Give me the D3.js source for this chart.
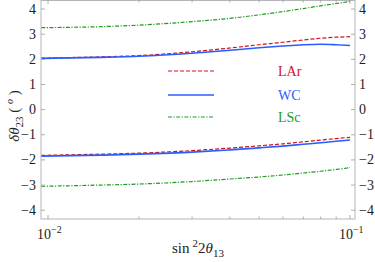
<!DOCTYPE html>
<html>
<head>
<meta charset="utf-8">
<script src="https://cdn.jsdelivr.net/npm/d3@7"></script>
<style>
  body { margin: 0; background: #fff; }
  svg { display: block; font-family: "Liberation Serif", "DejaVu Serif", serif; }
</style>
</head>
<body>
<svg id="chart" width="375" height="262"></svg>
<script>
// sin^2 2theta13 sample points
const sin2 = [0.0095, 0.015, 0.02, 0.03, 0.04, 0.05, 0.06, 0.07, 0.08, 0.09, 0.1]

// delta theta23 (degrees), upper and lower branches
const larUpper = [2.05, 2.1, 2.15, 2.3, 2.45, 2.58, 2.68, 2.77, 2.84, 2.88, 2.9]
const larLower = [-1.82, -1.77, -1.73, -1.63, -1.53, -1.44, -1.36, -1.28, -1.21, -1.15, -1.1]
const wcUpper = [2.04, 2.08, 2.12, 2.24, 2.36, 2.46, 2.53, 2.58, 2.6, 2.58, 2.55]
const wcLower = [-1.85, -1.81, -1.77, -1.69, -1.6, -1.52, -1.45, -1.38, -1.32, -1.26, -1.21]
const lscUpper = [3.26, 3.3, 3.36, 3.5, 3.63, 3.77, 3.9, 4.02, 4.13, 4.22, 4.3]
const lscLower = [-3.05, -3.0, -2.96, -2.86, -2.76, -2.68, -2.6, -2.52, -2.45, -2.38, -2.31]

const yTicks = [-4, -3, -2, -1, 0, 1, 2, 3, 4]
const xMajor = [0.01, 0.1]
const xMinor = [0.02, 0.03, 0.04, 0.05, 0.06, 0.07, 0.08, 0.09]

const series = [
  { name: "LAr", color: "#d0141c", dash: "4,2", width: 1.2, branches: [larUpper, larLower] },
  { name: "WC", color: "#2a5cff", dash: null, width: 1.6, branches: [wcUpper, wcLower] },
  { name: "LSc", color: "#1f9a1f", dash: "4,1.5,1.2,1.5", width: 1.2, branches: [lscUpper, lscLower] }
]

const svg = d3.select("#chart")
const pLeft = 41, pRight = 355, pTop = 0, pBottom = 219

const x = d3.scaleLog().domain([0.00948, 0.1039]).range([pLeft, pRight])
const y = d3.scaleLinear().domain([-4.35, 4.36]).range([pBottom, pTop])

const frame = "#b5b5b5"

// curves
const line = d3.line()
  .x((d, i) => x(sin2[i]))
  .y(d => y(d))
  .curve(d3.curveMonotoneX)

const plot = svg.append("g")
series.forEach(s => {
  s.branches.forEach(b => {
    plot.append("path")
      .datum(b)
      .attr("d", line)
      .attr("fill", "none")
      .attr("stroke", s.color)
      .attr("stroke-width", s.width)
      .attr("stroke-dasharray", s.dash)
  })
})

// frame
svg.append("rect")
  .attr("x", pLeft).attr("y", pTop + 0.5)
  .attr("width", pRight - pLeft).attr("height", pBottom - pTop - 0.5)
  .attr("fill", "none").attr("stroke", frame).attr("stroke-width", 1)

// ticks
const tickG = svg.append("g").attr("stroke", "#999").attr("stroke-width", 0.8)
yTicks.forEach(t => {
  tickG.append("line").attr("x1", pLeft).attr("x2", pLeft + 4).attr("y1", y(t)).attr("y2", y(t))
  tickG.append("line").attr("x1", pRight).attr("x2", pRight - 4).attr("y1", y(t)).attr("y2", y(t))
})
xMajor.forEach(t => {
  tickG.append("line").attr("x1", x(t)).attr("x2", x(t)).attr("y1", pBottom).attr("y2", pBottom - 4)
  tickG.append("line").attr("x1", x(t)).attr("x2", x(t)).attr("y1", pTop).attr("y2", pTop + 4)
})
xMinor.forEach(t => {
  tickG.append("line").attr("x1", x(t)).attr("x2", x(t)).attr("y1", pBottom).attr("y2", pBottom - 2.5)
  tickG.append("line").attr("x1", x(t)).attr("x2", x(t)).attr("y1", pTop).attr("y2", pTop + 2.5)
})

// tick labels
const fmt = t => (t < 0 ? "\u2212" + Math.abs(t) : String(t))
yTicks.forEach(t => {
  svg.append("text").attr("x", 36).attr("y", y(t) + 4.5)
    .attr("text-anchor", "end").attr("font-size", 14).attr("fill", "#222").text(fmt(t))
  svg.append("text").attr("x", 359).attr("y", y(t) + 4.5)
    .attr("text-anchor", "start").attr("font-size", 14).attr("fill", "#222").text(fmt(t))
})
xMajor.forEach((t, i) => {
  const lab = svg.append("text").attr("x", x(t) - 11).attr("y", 239)
    .attr("font-size", 14).attr("fill", "#222")
  lab.append("tspan").text("10")
  lab.append("tspan").attr("dy", -6).attr("font-size", 10).text(i === 0 ? "\u22122" : "\u22121")
})

// axis titles
const xt = svg.append("text").attr("x", 172).attr("y", 253).attr("font-size", 15).attr("fill", "#222")
xt.append("tspan").text("sin\u2009")
xt.append("tspan").attr("dy", -6).attr("font-size", 11).text("2")
xt.append("tspan").attr("dy", 6).text("2")
xt.append("tspan").attr("font-style", "italic").text("\u03b8")
xt.append("tspan").attr("dy", 4).attr("font-size", 11).text("13")

const yt = svg.append("text")
  .attr("transform", "translate(19,116) rotate(-90)")
  .attr("text-anchor", "middle").attr("font-size", 15).attr("fill", "#222")
yt.append("tspan").attr("font-style", "italic").text("\u03b4\u03b8")
yt.append("tspan").attr("dy", 4).attr("font-size", 11).text("23")
yt.append("tspan").attr("dy", -4).text(" ( ")
yt.append("tspan").attr("dy", -6).attr("font-size", 10).attr("font-style", "italic").text("o")
yt.append("tspan").attr("dy", 6).text(" )")

// legend
const legY = [71, 95, 117]
series.forEach((s, i) => {
  svg.append("line")
    .attr("x1", 168).attr("x2", 214).attr("y1", legY[i]).attr("y2", legY[i])
    .attr("stroke", s.color).attr("stroke-width", s.width).attr("stroke-dasharray", s.dash)
  svg.append("text").attr("x", 278).attr("y", legY[i] + 5)
    .attr("font-size", 14).attr("fill", s.color).text(s.name)
})
</script>
</body>
</html>
